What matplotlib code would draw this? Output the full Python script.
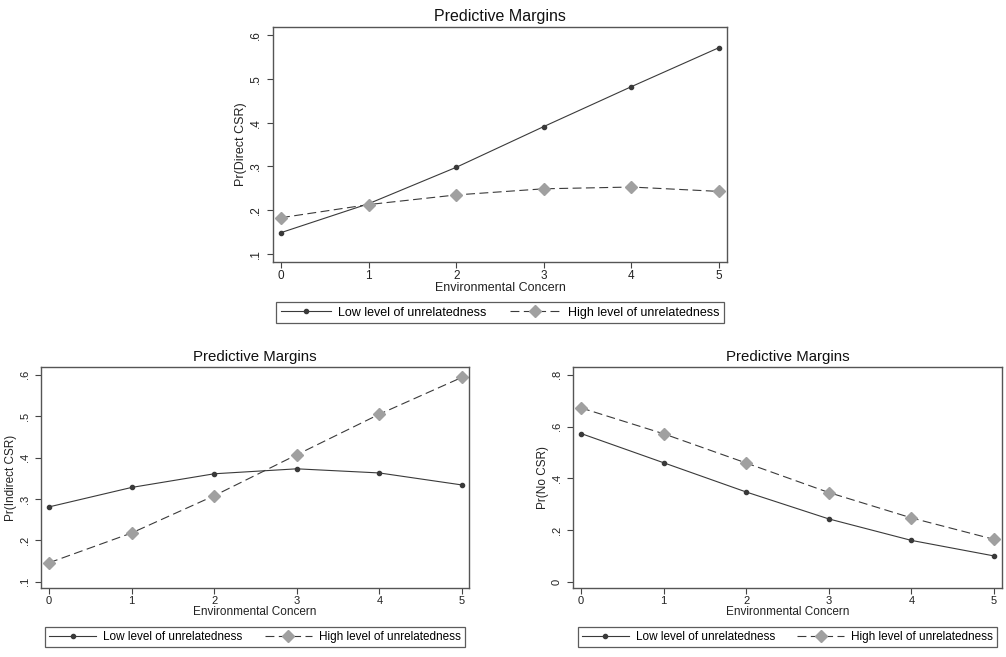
import numpy as np
import matplotlib.pyplot as plt

plt.rcParams['font.family'] = ['Liberation Sans', 'DejaVu Sans']

# datos
x = [0, 1, 2, 3, 4, 5]
direct_low = [0.149, 0.215, 0.298, 0.391, 0.482, 0.571]
direct_high = [0.183, 0.213, 0.235, 0.249, 0.253, 0.243]
indirect_low = [0.281, 0.328, 0.361, 0.373, 0.363, 0.334]
indirect_high = [0.146, 0.218, 0.308, 0.407, 0.505, 0.594]
nocsr_low = [0.573, 0.460, 0.347, 0.243, 0.160, 0.100]
nocsr_high = [0.672, 0.572, 0.459, 0.345, 0.247, 0.164]

yticks_a = [0.1, 0.2, 0.3, 0.4, 0.5, 0.6]
ylabels_a = ['.1', '.2', '.3', '.4', '.5', '.6']
yticks_b = [0, 0.2, 0.4, 0.6, 0.8]
ylabels_b = ['0', '.2', '.4', '.6', '.8']

etiqueta_low = 'Low level of unrelatedness'
etiqueta_high = 'High level of unrelatedness'

fig = plt.figure(figsize=(10.06, 6.57), dpi=100)


def panel(rect, low, high, ylabel, yticks, ylabels, xlim, ylim, leg_y, k=1.0):
    ax = fig.add_axes(rect)
    ax.plot(x, low, color='#3a3a3a', lw=0.8, marker='o', ms=3,
            mfc='#3a3a3a', mec='#3a3a3a', label=etiqueta_low)
    ax.plot(x, high, color='#3a3a3a', lw=0.8, ls=(0, (8, 4)), marker='D', ms=6,
            mfc='#a0a0a0', mec='#a0a0a0', label=etiqueta_high)
    ax.set_xlim(xlim)
    ax.set_ylim(ylim)
    ax.set_xticks(x)
    ax.set_yticks(yticks)
    ax.set_yticklabels(ylabels, rotation=90, va='center')
    ax.tick_params(axis='both', direction='out', length=4, width=0.8,
                   color='#444444', labelsize=8.5 * k, labelcolor='#222222', pad=2)
    ax.tick_params(axis='y', pad=4)
    for s in ax.spines.values():
        s.set_color('#555555')
        s.set_linewidth(1.0)
    ax.set_title('Predictive Margins', fontsize=11.5 * k, pad=4, color='#111111')
    ax.set_xlabel('Environmental Concern', fontsize=9 * k, labelpad=0, color='#222222')
    ax.set_ylabel(ylabel, fontsize=9 * k, labelpad=2, color='#222222')
    leg = ax.legend(loc='upper center', bbox_to_anchor=(0.5, leg_y), ncol=2,
                    frameon=True, fancybox=False, fontsize=9 * k, handlelength=4.0,
                    handletextpad=0.6, columnspacing=1.9, borderpad=0.35,
                    edgecolor='#333333')
    leg.get_frame().set_linewidth(0.9)
    return ax


panel([0.2714, 0.6012, 0.4513, 0.3577], direct_low, direct_high,
      'Pr(Direct CSR)', yticks_a, ylabels_a, (-0.091, 5.091), (0.082, 0.618), -0.145)
panel([0.0408, 0.105, 0.4254, 0.3364], indirect_low, indirect_high,
      'Pr(Indirect CSR)', yticks_a, ylabels_a, (-0.097, 5.085), (0.085, 0.619), -0.149, 0.94)
panel([0.5696, 0.105, 0.4264, 0.3364], nocsr_low, nocsr_high,
      'Pr(No CSR)', yticks_b, ylabels_b, (-0.097, 5.097), (-0.024, 0.83), -0.149, 0.94)

fig.savefig('out.png', dpi=100)
